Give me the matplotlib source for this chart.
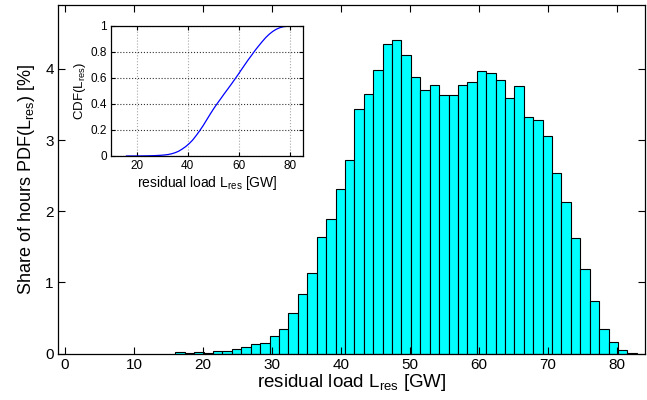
import numpy as np
import matplotlib
matplotlib.use('Agg')
import matplotlib.pyplot as plt

plt.rcParams['font.family'] = ['Liberation Sans', 'DejaVu Sans']
plt.rcParams['mathtext.fontset'] = 'custom'
plt.rcParams['mathtext.rm'] = 'Liberation Sans'
plt.rcParams['mathtext.it'] = 'Liberation Sans'

# histogram bin edges of residual load [GW]
load_edges = [16.01, 17.37, 18.74, 20.10, 21.47, 22.83, 24.19, 25.56, 26.92, 28.29,
              29.65, 31.01, 32.38, 33.74, 35.11, 36.47, 37.83, 39.20, 40.56, 41.93,
              43.29, 44.65, 46.02, 47.38, 48.75, 50.11, 51.47, 52.84, 54.20, 55.57,
              56.93, 58.29, 59.66, 61.02, 62.39, 63.75, 65.11, 66.48, 67.84, 69.21,
              70.57, 71.93, 73.30, 74.66, 76.03, 77.39, 78.75, 80.12, 81.48, 82.85]
# share of hours per bin [%]
share_pct = [0.02, 0.005, 0.02, 0.015, 0.038, 0.035, 0.066, 0.09, 0.13, 0.146,
             0.25, 0.34, 0.567, 0.838, 1.133, 1.64, 1.89, 2.31, 2.72, 3.44,
             3.65, 3.99, 4.35, 4.40, 4.20, 3.88, 3.71, 3.77, 3.64, 3.64,
             3.78, 3.81, 3.97, 3.94, 3.84, 3.59, 3.76, 3.32, 3.28, 3.06,
             2.54, 2.13, 1.63, 1.19, 0.74, 0.34, 0.17, 0.047, 0.015]

x_ticks = [0, 10, 20, 30, 40, 50, 60, 70, 80]
y_ticks = [0, 1, 2, 3, 4]
inset_x_ticks = [20, 40, 60, 80]
inset_y_ticks = [0, 0.2, 0.4, 0.6, 0.8, 1]
inset_y_labels = ['0', '0.2', '0.4', '0.6', '0.8', '1']

edges = np.array(load_edges)
share = np.array(share_pct)
cdf = np.concatenate([[0.0], np.cumsum(share)]) / share.sum()

fig = plt.figure(figsize=(6.47, 4.0), dpi=100)
ax = fig.add_axes([0.0896, 0.1158, 0.907, 0.872])
ax.bar(edges[:-1], share, width=np.diff(edges), align='edge',
       color='#00ffff', edgecolor='black', linewidth=0.8)
ax.set_xlim(-1, 84)
ax.set_ylim(0, 4.9)
ax.set_xticks(x_ticks)
ax.set_yticks(y_ticks)
ax.tick_params(direction='in', top=True, right=True, length=5, labelsize=11, pad=3)
ax.set_xlabel('residual load L$_\\mathrm{res}$ [GW]', fontsize=13.5, labelpad=0)
ax.set_ylabel('Share of hours PDF(L$_\\mathrm{res}$) [%]', fontsize=13, labelpad=6)
for s in ax.spines.values():
    s.set_linewidth(0.9)

ins = fig.add_axes([0.1716, 0.61, 0.2963, 0.325])
ins.plot(edges, cdf, color='blue', linewidth=0.9)
ins.set_xlim(10, 85)
ins.set_ylim(0, 1)
ins.set_xticks(inset_x_ticks)
ins.set_yticks(inset_y_ticks)
ins.set_yticklabels(inset_y_labels)
ins.tick_params(direction='in', top=True, right=True, length=3, labelsize=8.5, pad=3)
ins.grid(axis='x', linestyle=':', color='0.65', linewidth=0.8)
ins.grid(axis='y', linestyle=':', color='0.2', linewidth=0.8)
ins.set_xlabel('residual load L$_\\mathrm{res}$ [GW]', fontsize=10, labelpad=1)
ins.set_ylabel('CDF(L$_\\mathrm{res}$)', fontsize=9.5, labelpad=2)
for s in ins.spines.values():
    s.set_linewidth(0.9)

fig.savefig('out.png', dpi=100)
